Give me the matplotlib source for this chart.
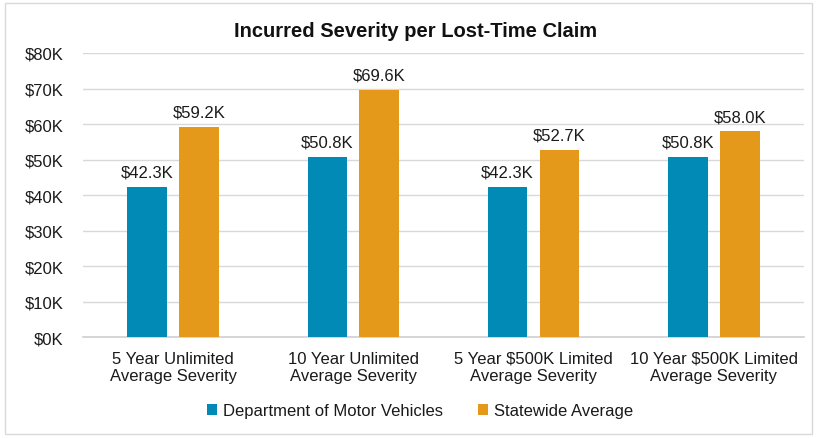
import matplotlib.pyplot as plt
import numpy as np
from matplotlib.patches import Rectangle

plt.rcParams['font.family'] = ['Liberation Sans', 'DejaVu Sans']

categories = ['5 Year Unlimited\nAverage Severity', '10 Year Unlimited\nAverage Severity',
              '5 Year $500K Limited\nAverage Severity', '10 Year $500K Limited\nAverage Severity']
dmv = [42.3, 50.8, 42.3, 50.8]
statewide = [59.2, 69.6, 52.7, 58.0]
series_names = ['Department of Motor Vehicles', 'Statewide Average']
colors = ['#008AB5', '#E4991B']

fig = plt.figure(figsize=(8.17, 4.39), dpi=100)
ax = fig.add_axes([0.1016, 0.230, 0.8824, 0.647])

x = np.arange(len(categories))
width = 0.22
off = 0.144
b1 = ax.bar(x - off, dmv, width, color=colors[0], label=series_names[0], zorder=3)
b2 = ax.bar(x + off, statewide, width, color=colors[1], label=series_names[1], zorder=3)

for bars in (b1, b2):
    for rect in bars:
        h = rect.get_height()
        ax.annotate(f'${h:.1f}K', xy=(rect.get_x() + rect.get_width() / 2, h),
                    xytext=(0, 5), textcoords='offset points',
                    ha='center', va='bottom', fontsize=12, color='#1a1a1a')

ax.set_xlim(-0.5, len(categories) - 0.5)
ax.set_ylim(0, 80)
ax.set_yticks(np.arange(0, 81, 10))
ax.set_yticklabels([f'${v}K' for v in range(0, 81, 10)])
ax.set_xticks(x)
ax.set_xticklabels(categories, linespacing=1.2)
ax.tick_params(axis='both', length=0, labelsize=12, colors='#1a1a1a')
ax.tick_params(axis='y', pad=14)
ax.tick_params(axis='x', pad=10)
ax.grid(axis='y', color='#D9D9D9', linewidth=1, zorder=0)
for s in ['top', 'right', 'left']:
    ax.spines[s].set_visible(False)
ax.spines['bottom'].set_color('#D0D0D0')
ax.spines['bottom'].set_linewidth(1.2)

fig.text(0.509, 0.928, 'Incurred Severity per Lost-Time Claim', fontsize=14.5,
         fontweight='bold', ha='center', va='center', color='#111111')

fig.legend(handles=[b1, b2], loc='center', bbox_to_anchor=(0.514, 0.062), ncol=2,
           frameon=False, fontsize=12, handlelength=0.6, handleheight=0.6,
           columnspacing=2.1, handletextpad=0.35, labelcolor='#1a1a1a')

fig.patches.append(Rectangle((0.006, 0.008), 0.988, 0.984, transform=fig.transFigure,
                             fill=False, edgecolor='#D9D9D9', linewidth=1))

plt.savefig('out.png', dpi=100)
